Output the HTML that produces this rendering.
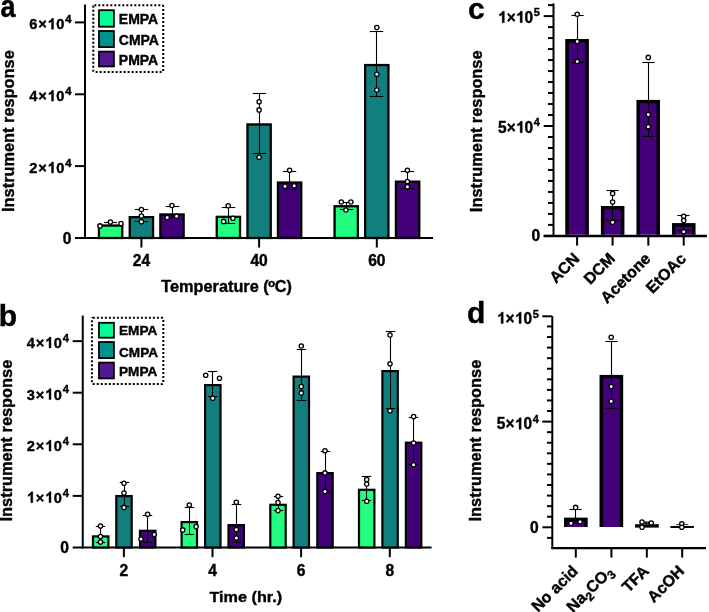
<!DOCTYPE html>
<html><head><meta charset="utf-8"><style>
html,body{margin:0;padding:0;background:#fff;}
svg{display:block;will-change:transform;}
text{font-family:"Liberation Sans",sans-serif;font-weight:bold;fill:#000;stroke:#000;stroke-width:0.4px;}
</style></head><body>
<svg width="709" height="612" viewBox="0 0 709 612">
<rect width="709" height="612" fill="#fff"/>
<text x="0" y="0" font-size="30" transform="translate(0.6,16.5) scale(0.9,1.02)">a</text>
<text x="0" y="0" font-size="16.35" text-anchor="middle" transform="translate(14.0,131.1) rotate(-90)">Instrument response</text>
<line x1="85" y1="4.5" x2="85" y2="239" stroke="#000" stroke-width="2"/>
<line x1="75" y1="238" x2="433" y2="238" stroke="#000" stroke-width="2"/>
<line x1="75" y1="22.4" x2="85" y2="22.4" stroke="#000" stroke-width="2"/>
<line x1="75" y1="94.3" x2="85" y2="94.3" stroke="#000" stroke-width="2"/>
<line x1="75" y1="166.1" x2="85" y2="166.1" stroke="#000" stroke-width="2"/>
<text x="0" y="0" font-size="14.6" text-anchor="end" transform="translate(72.3,29.2) scale(1,1.04)" letter-spacing="0.8">6× 0<tspan font-size="11.2" dy="-5.9" dx="0">4</tspan></text>
<text x="0" y="0" font-size="14.6" text-anchor="end" transform="translate(72.3,101.1) scale(1,1.04)" letter-spacing="0.8">4× 0<tspan font-size="11.2" dy="-5.9" dx="0">4</tspan></text>
<text x="0" y="0" font-size="14.6" text-anchor="end" transform="translate(72.3,172.9) scale(1,1.04)" letter-spacing="0.8">2× 0<tspan font-size="11.2" dy="-5.9" dx="0">4</tspan></text>
<text x="0" y="0" font-size="15.6" text-anchor="end" transform="translate(71.5,243.7) scale(1,1.0)" >0</text>
<line x1="141.4" y1="238" x2="141.4" y2="247.5" stroke="#000" stroke-width="2"/>
<text x="0" y="0" font-size="15.6" text-anchor="middle" transform="translate(141.4,265.8) scale(1,1.0)" >24</text>
<line x1="259.1" y1="238" x2="259.1" y2="247.5" stroke="#000" stroke-width="2"/>
<text x="0" y="0" font-size="15.6" text-anchor="middle" transform="translate(259.1,265.8) scale(1,1.0)" >40</text>
<line x1="376.8" y1="238" x2="376.8" y2="247.5" stroke="#000" stroke-width="2"/>
<text x="0" y="0" font-size="15.6" text-anchor="middle" transform="translate(376.8,265.8) scale(1,1.0)" >60</text>
<text x="0" y="0" font-size="16.3" text-anchor="start" transform="translate(161.3,292.4) scale(1,0.98)" >Temperature (<tspan font-size="11.8" dy="-5.6" dx="-0.7">o</tspan><tspan dy="5.6" dx="-0.4">C)</tspan></text>
<rect x="98.95" y="225.55" width="23.30" height="12.45" fill="#22FE80" stroke="#000" stroke-width="2.3"/>
<rect x="129.75" y="217.15" width="23.30" height="20.85" fill="#117F7E" stroke="#000" stroke-width="2.3"/>
<rect x="160.35" y="214.45" width="23.30" height="23.55" fill="#420079" stroke="#000" stroke-width="2.3"/>
<rect x="216.75" y="216.85" width="23.30" height="21.15" fill="#22FE80" stroke="#000" stroke-width="2.3"/>
<rect x="247.45" y="124.45" width="23.30" height="113.55" fill="#117F7E" stroke="#000" stroke-width="2.3"/>
<rect x="277.95" y="182.55" width="23.30" height="55.45" fill="#420079" stroke="#000" stroke-width="2.3"/>
<rect x="334.55" y="206.25" width="23.30" height="31.75" fill="#22FE80" stroke="#000" stroke-width="2.3"/>
<rect x="365.15" y="65.05" width="23.30" height="172.95" fill="#117F7E" stroke="#000" stroke-width="2.3"/>
<rect x="395.95" y="181.65" width="23.30" height="56.35" fill="#420079" stroke="#000" stroke-width="2.3"/>
<line x1="110.5" y1="222.5" x2="110.5" y2="222.5" stroke="#000" stroke-width="1.1"/>
<line x1="104.2" y1="222.5" x2="116.8" y2="222.5" stroke="#000" stroke-width="1.1"/>
<line x1="104.2" y1="222.5" x2="116.8" y2="222.5" stroke="#000" stroke-width="1.1"/>
<circle cx="110.4" cy="222.1" r="2.15" fill="#fff" stroke="#000" stroke-width="1.3"/>
<circle cx="100.0" cy="225.9" r="2.15" fill="#fff" stroke="#000" stroke-width="1.3"/>
<circle cx="121.0" cy="223.6" r="2.15" fill="#fff" stroke="#000" stroke-width="1.3"/>
<line x1="141.5" y1="209.5" x2="141.5" y2="221.5" stroke="#000" stroke-width="1.1"/>
<line x1="134.75" y1="209.5" x2="148.25" y2="209.5" stroke="#000" stroke-width="1.1"/>
<line x1="134.75" y1="221.5" x2="148.25" y2="221.5" stroke="#000" stroke-width="1.1"/>
<circle cx="141.4" cy="209.5" r="2.15" fill="#fff" stroke="#000" stroke-width="1.3"/>
<circle cx="141.4" cy="216.0" r="2.15" fill="#fff" stroke="#000" stroke-width="1.3"/>
<circle cx="141.4" cy="221.8" r="2.15" fill="#fff" stroke="#000" stroke-width="1.3"/>
<line x1="172.5" y1="206.5" x2="172.5" y2="217.5" stroke="#000" stroke-width="1.1"/>
<line x1="165.6" y1="206.5" x2="179.4" y2="206.5" stroke="#000" stroke-width="1.1"/>
<line x1="165.6" y1="217.5" x2="179.4" y2="217.5" stroke="#000" stroke-width="1.1"/>
<circle cx="171.9" cy="205.5" r="2.15" fill="#fff" stroke="#000" stroke-width="1.3"/>
<circle cx="167.2" cy="217.6" r="2.15" fill="#fff" stroke="#000" stroke-width="1.3"/>
<circle cx="176.6" cy="216.3" r="2.15" fill="#fff" stroke="#000" stroke-width="1.3"/>
<line x1="228.5" y1="207.5" x2="228.5" y2="223.5" stroke="#000" stroke-width="1.1"/>
<line x1="221.75" y1="207.5" x2="235.25" y2="207.5" stroke="#000" stroke-width="1.1"/>
<line x1="221.75" y1="223.5" x2="235.25" y2="223.5" stroke="#000" stroke-width="1.1"/>
<circle cx="228.2" cy="205.8" r="2.15" fill="#fff" stroke="#000" stroke-width="1.3"/>
<circle cx="223.6" cy="221.4" r="2.15" fill="#fff" stroke="#000" stroke-width="1.3"/>
<circle cx="232.9" cy="218.3" r="2.15" fill="#fff" stroke="#000" stroke-width="1.3"/>
<line x1="259.5" y1="93.5" x2="259.5" y2="153.5" stroke="#000" stroke-width="1.1"/>
<line x1="252.75" y1="93.5" x2="266.25" y2="93.5" stroke="#000" stroke-width="1.1"/>
<line x1="252.75" y1="153.5" x2="266.25" y2="153.5" stroke="#000" stroke-width="1.1"/>
<circle cx="259.1" cy="101.7" r="2.15" fill="#fff" stroke="#000" stroke-width="1.3"/>
<circle cx="259.1" cy="109.9" r="2.15" fill="#fff" stroke="#000" stroke-width="1.3"/>
<circle cx="259.1" cy="157.3" r="2.15" fill="#fff" stroke="#000" stroke-width="1.3"/>
<line x1="289.5" y1="171.5" x2="289.5" y2="189.5" stroke="#000" stroke-width="1.1"/>
<line x1="282.75" y1="171.5" x2="296.25" y2="171.5" stroke="#000" stroke-width="1.1"/>
<line x1="282.75" y1="189.5" x2="296.25" y2="189.5" stroke="#000" stroke-width="1.1"/>
<circle cx="289.6" cy="170.2" r="2.15" fill="#fff" stroke="#000" stroke-width="1.3"/>
<circle cx="285.0" cy="186.2" r="2.15" fill="#fff" stroke="#000" stroke-width="1.3"/>
<circle cx="294.2" cy="185.8" r="2.15" fill="#fff" stroke="#000" stroke-width="1.3"/>
<line x1="346.5" y1="202.5" x2="346.5" y2="209.5" stroke="#000" stroke-width="1.1"/>
<line x1="339.75" y1="202.5" x2="353.25" y2="202.5" stroke="#000" stroke-width="1.1"/>
<line x1="339.75" y1="209.5" x2="353.25" y2="209.5" stroke="#000" stroke-width="1.1"/>
<circle cx="341.3" cy="202.0" r="2.15" fill="#fff" stroke="#000" stroke-width="1.3"/>
<circle cx="350.9" cy="202.0" r="2.15" fill="#fff" stroke="#000" stroke-width="1.3"/>
<circle cx="345.9" cy="210.0" r="2.15" fill="#fff" stroke="#000" stroke-width="1.3"/>
<line x1="376.5" y1="31.5" x2="376.5" y2="96.5" stroke="#000" stroke-width="1.1"/>
<line x1="369.75" y1="31.5" x2="383.25" y2="31.5" stroke="#000" stroke-width="1.1"/>
<line x1="369.75" y1="96.5" x2="383.25" y2="96.5" stroke="#000" stroke-width="1.1"/>
<circle cx="376.8" cy="27.5" r="2.15" fill="#fff" stroke="#000" stroke-width="1.3"/>
<circle cx="376.8" cy="74.2" r="2.15" fill="#fff" stroke="#000" stroke-width="1.3"/>
<circle cx="376.8" cy="90.0" r="2.15" fill="#fff" stroke="#000" stroke-width="1.3"/>
<line x1="407.5" y1="171.5" x2="407.5" y2="188.5" stroke="#000" stroke-width="1.1"/>
<line x1="400.75" y1="171.5" x2="414.25" y2="171.5" stroke="#000" stroke-width="1.1"/>
<line x1="400.75" y1="188.5" x2="414.25" y2="188.5" stroke="#000" stroke-width="1.1"/>
<circle cx="407.4" cy="170.2" r="2.15" fill="#fff" stroke="#000" stroke-width="1.3"/>
<circle cx="407.4" cy="181.6" r="2.15" fill="#fff" stroke="#000" stroke-width="1.3"/>
<circle cx="407.4" cy="186.8" r="2.15" fill="#fff" stroke="#000" stroke-width="1.3"/>
<rect x="93.3" y="5.2" width="69.89999999999999" height="66.7" rx="1" fill="none" stroke="#000" stroke-width="2" stroke-dasharray="2 2"/>
<rect x="99.0" y="10.200000000000001" width="14.9" height="16.50" fill="#00FE94" stroke="#000" stroke-width="1.8"/>
<text x="0" y="0" font-size="14" text-anchor="start" transform="translate(118.8,24.0) scale(1,1.0)" >EMPA</text>
<rect x="99.0" y="31.0" width="14.9" height="16.10" fill="#00908D" stroke="#000" stroke-width="1.8"/>
<text x="0" y="0" font-size="14" text-anchor="start" transform="translate(118.8,44.6) scale(1,1.0)" >CMPA</text>
<rect x="99.0" y="51.6" width="14.9" height="14.80" fill="#52198F" stroke="#000" stroke-width="1.8"/>
<text x="0" y="0" font-size="14" text-anchor="start" transform="translate(118.8,65.0) scale(1,1.0)" >PMPA</text>
<text x="0" y="0" font-size="30" text-anchor="start" transform="translate(-1.3,326) scale(1,1.0)" >b</text>
<text x="0" y="0" font-size="16.35" text-anchor="middle" transform="translate(11.8,440.6) rotate(-90)">Instrument response</text>
<line x1="82.75" y1="315.5" x2="82.75" y2="548.5" stroke="#000" stroke-width="2"/>
<line x1="72.7" y1="547.5" x2="431.6" y2="547.5" stroke="#000" stroke-width="2"/>
<line x1="72.7" y1="341.15" x2="82.75" y2="341.15" stroke="#000" stroke-width="2"/>
<line x1="72.7" y1="392.7" x2="82.75" y2="392.7" stroke="#000" stroke-width="2"/>
<line x1="72.7" y1="444.3" x2="82.75" y2="444.3" stroke="#000" stroke-width="2"/>
<line x1="72.7" y1="495.9" x2="82.75" y2="495.9" stroke="#000" stroke-width="2"/>
<text x="0" y="0" font-size="14.6" text-anchor="end" transform="translate(69.8,347.95) scale(1,1.04)" letter-spacing="0.8">4× 0<tspan font-size="11.2" dy="-5.9" dx="0">4</tspan></text>
<text x="0" y="0" font-size="14.6" text-anchor="end" transform="translate(69.8,399.5) scale(1,1.04)" letter-spacing="0.8">3× 0<tspan font-size="11.2" dy="-5.9" dx="0">4</tspan></text>
<text x="0" y="0" font-size="14.6" text-anchor="end" transform="translate(69.8,451.1) scale(1,1.04)" letter-spacing="0.8">2× 0<tspan font-size="11.2" dy="-5.9" dx="0">4</tspan></text>
<text x="0" y="0" font-size="14.6" text-anchor="end" transform="translate(69.8,502.7) scale(1,1.04)" letter-spacing="0.8"> × 0<tspan font-size="11.2" dy="-5.9" dx="0">4</tspan></text>
<text x="0" y="0" font-size="15.6" text-anchor="end" transform="translate(69.0,553.3) scale(1,1.0)" >0</text>
<line x1="123.9" y1="547.5" x2="123.9" y2="557.2" stroke="#000" stroke-width="2"/>
<text x="0" y="0" font-size="15.6" text-anchor="middle" transform="translate(123.9,575.9) scale(1,1.0)" >2</text>
<line x1="212.5" y1="547.5" x2="212.5" y2="557.2" stroke="#000" stroke-width="2"/>
<text x="0" y="0" font-size="15.6" text-anchor="middle" transform="translate(212.5,575.9) scale(1,1.0)" >4</text>
<line x1="301.1" y1="547.5" x2="301.1" y2="557.2" stroke="#000" stroke-width="2"/>
<text x="0" y="0" font-size="15.6" text-anchor="middle" transform="translate(301.1,575.9) scale(1,1.0)" >6</text>
<line x1="389.8" y1="547.5" x2="389.8" y2="557.2" stroke="#000" stroke-width="2"/>
<text x="0" y="0" font-size="15.6" text-anchor="middle" transform="translate(389.8,575.9) scale(1,1.0)" >8</text>
<text x="0" y="0" font-size="16.2" text-anchor="start" transform="translate(209.5,602.3) scale(1,0.94)" >Time (hr.)</text>
<rect x="93.00" y="536.40" width="15.40" height="11.10" fill="#22FE80" stroke="#000" stroke-width="2.2"/>
<rect x="116.30" y="496.10" width="15.40" height="51.40" fill="#117F7E" stroke="#000" stroke-width="2.2"/>
<rect x="140.00" y="530.80" width="15.40" height="16.70" fill="#420079" stroke="#000" stroke-width="2.2"/>
<rect x="181.60" y="522.10" width="15.40" height="25.40" fill="#22FE80" stroke="#000" stroke-width="2.2"/>
<rect x="205.10" y="385.10" width="15.40" height="162.40" fill="#117F7E" stroke="#000" stroke-width="2.2"/>
<rect x="228.50" y="525.10" width="15.40" height="22.40" fill="#420079" stroke="#000" stroke-width="2.2"/>
<rect x="270.30" y="504.80" width="15.40" height="42.70" fill="#22FE80" stroke="#000" stroke-width="2.2"/>
<rect x="293.60" y="376.60" width="15.40" height="170.90" fill="#117F7E" stroke="#000" stroke-width="2.2"/>
<rect x="317.30" y="473.10" width="15.40" height="74.40" fill="#420079" stroke="#000" stroke-width="2.2"/>
<rect x="359.00" y="489.80" width="15.40" height="57.70" fill="#22FE80" stroke="#000" stroke-width="2.2"/>
<rect x="382.40" y="371.10" width="15.40" height="176.40" fill="#117F7E" stroke="#000" stroke-width="2.2"/>
<rect x="405.90" y="442.70" width="15.40" height="104.80" fill="#420079" stroke="#000" stroke-width="2.2"/>
<line x1="100.5" y1="526.5" x2="100.5" y2="542.5" stroke="#000" stroke-width="1.1"/>
<line x1="95.75" y1="526.5" x2="105.25" y2="526.5" stroke="#000" stroke-width="1.1"/>
<line x1="95.75" y1="542.5" x2="105.25" y2="542.5" stroke="#000" stroke-width="1.1"/>
<circle cx="100.5" cy="526.1" r="2.15" fill="#fff" stroke="#000" stroke-width="1.3"/>
<circle cx="100.5" cy="536.6" r="2.15" fill="#fff" stroke="#000" stroke-width="1.3"/>
<circle cx="100.5" cy="542.1" r="2.15" fill="#fff" stroke="#000" stroke-width="1.3"/>
<line x1="124.5" y1="482.5" x2="124.5" y2="506.5" stroke="#000" stroke-width="1.1"/>
<line x1="119.75" y1="482.5" x2="129.25" y2="482.5" stroke="#000" stroke-width="1.1"/>
<line x1="119.75" y1="506.5" x2="129.25" y2="506.5" stroke="#000" stroke-width="1.1"/>
<circle cx="124.0" cy="483.3" r="2.15" fill="#fff" stroke="#000" stroke-width="1.3"/>
<circle cx="124.0" cy="493.1" r="2.15" fill="#fff" stroke="#000" stroke-width="1.3"/>
<circle cx="124.0" cy="507.5" r="2.15" fill="#fff" stroke="#000" stroke-width="1.3"/>
<line x1="147.5" y1="515.5" x2="147.5" y2="542.5" stroke="#000" stroke-width="1.1"/>
<line x1="142.75" y1="515.5" x2="152.25" y2="515.5" stroke="#000" stroke-width="1.1"/>
<line x1="142.75" y1="542.5" x2="152.25" y2="542.5" stroke="#000" stroke-width="1.1"/>
<circle cx="147.6" cy="514.2" r="2.15" fill="#fff" stroke="#000" stroke-width="1.3"/>
<circle cx="141.0" cy="539.1" r="2.15" fill="#fff" stroke="#000" stroke-width="1.3"/>
<circle cx="154.3" cy="534.5" r="2.15" fill="#fff" stroke="#000" stroke-width="1.3"/>
<line x1="189.5" y1="507.5" x2="189.5" y2="534.5" stroke="#000" stroke-width="1.1"/>
<line x1="184.75" y1="507.5" x2="194.25" y2="507.5" stroke="#000" stroke-width="1.1"/>
<line x1="184.75" y1="534.5" x2="194.25" y2="534.5" stroke="#000" stroke-width="1.1"/>
<circle cx="189.3" cy="505.0" r="2.15" fill="#fff" stroke="#000" stroke-width="1.3"/>
<circle cx="182.7" cy="529.9" r="2.15" fill="#fff" stroke="#000" stroke-width="1.3"/>
<circle cx="196.1" cy="526.6" r="2.15" fill="#fff" stroke="#000" stroke-width="1.3"/>
<line x1="212.5" y1="371.5" x2="212.5" y2="396.5" stroke="#000" stroke-width="1.1"/>
<line x1="207.75" y1="371.5" x2="217.25" y2="371.5" stroke="#000" stroke-width="1.1"/>
<line x1="207.75" y1="396.5" x2="217.25" y2="396.5" stroke="#000" stroke-width="1.1"/>
<circle cx="205.7" cy="375.2" r="2.15" fill="#fff" stroke="#000" stroke-width="1.3"/>
<circle cx="219.5" cy="378.3" r="2.15" fill="#fff" stroke="#000" stroke-width="1.3"/>
<circle cx="212.7" cy="398.3" r="2.15" fill="#fff" stroke="#000" stroke-width="1.3"/>
<line x1="236.5" y1="504.5" x2="236.5" y2="542.5" stroke="#000" stroke-width="1.1"/>
<line x1="231.75" y1="504.5" x2="241.25" y2="504.5" stroke="#000" stroke-width="1.1"/>
<line x1="231.75" y1="542.5" x2="241.25" y2="542.5" stroke="#000" stroke-width="1.1"/>
<circle cx="236.3" cy="502.2" r="2.15" fill="#fff" stroke="#000" stroke-width="1.3"/>
<circle cx="236.3" cy="529.6" r="2.15" fill="#fff" stroke="#000" stroke-width="1.3"/>
<circle cx="236.3" cy="538.1" r="2.15" fill="#fff" stroke="#000" stroke-width="1.3"/>
<line x1="278.5" y1="496.5" x2="278.5" y2="510.5" stroke="#000" stroke-width="1.1"/>
<line x1="273.75" y1="496.5" x2="283.25" y2="496.5" stroke="#000" stroke-width="1.1"/>
<line x1="273.75" y1="510.5" x2="283.25" y2="510.5" stroke="#000" stroke-width="1.1"/>
<circle cx="278.0" cy="496.2" r="2.15" fill="#fff" stroke="#000" stroke-width="1.3"/>
<circle cx="278.0" cy="502.5" r="2.15" fill="#fff" stroke="#000" stroke-width="1.3"/>
<circle cx="278.0" cy="510.6" r="2.15" fill="#fff" stroke="#000" stroke-width="1.3"/>
<line x1="301.5" y1="349.5" x2="301.5" y2="400.5" stroke="#000" stroke-width="1.1"/>
<line x1="296.75" y1="349.5" x2="306.25" y2="349.5" stroke="#000" stroke-width="1.1"/>
<line x1="296.75" y1="400.5" x2="306.25" y2="400.5" stroke="#000" stroke-width="1.1"/>
<circle cx="301.3" cy="346.0" r="2.15" fill="#fff" stroke="#000" stroke-width="1.3"/>
<circle cx="301.3" cy="386.6" r="2.15" fill="#fff" stroke="#000" stroke-width="1.3"/>
<circle cx="301.3" cy="392.9" r="2.15" fill="#fff" stroke="#000" stroke-width="1.3"/>
<line x1="325.5" y1="451.5" x2="325.5" y2="491.5" stroke="#000" stroke-width="1.1"/>
<line x1="320.75" y1="451.5" x2="330.25" y2="451.5" stroke="#000" stroke-width="1.1"/>
<line x1="320.75" y1="491.5" x2="330.25" y2="491.5" stroke="#000" stroke-width="1.1"/>
<circle cx="325.0" cy="450.7" r="2.15" fill="#fff" stroke="#000" stroke-width="1.3"/>
<circle cx="325.0" cy="472.9" r="2.15" fill="#fff" stroke="#000" stroke-width="1.3"/>
<circle cx="325.0" cy="491.6" r="2.15" fill="#fff" stroke="#000" stroke-width="1.3"/>
<line x1="366.5" y1="476.5" x2="366.5" y2="500.5" stroke="#000" stroke-width="1.1"/>
<line x1="361.75" y1="476.5" x2="371.25" y2="476.5" stroke="#000" stroke-width="1.1"/>
<line x1="361.75" y1="500.5" x2="371.25" y2="500.5" stroke="#000" stroke-width="1.1"/>
<circle cx="366.7" cy="479.6" r="2.15" fill="#fff" stroke="#000" stroke-width="1.3"/>
<circle cx="366.7" cy="484.0" r="2.15" fill="#fff" stroke="#000" stroke-width="1.3"/>
<circle cx="366.7" cy="501.3" r="2.15" fill="#fff" stroke="#000" stroke-width="1.3"/>
<line x1="390.5" y1="331.5" x2="390.5" y2="408.5" stroke="#000" stroke-width="1.1"/>
<line x1="385.75" y1="331.5" x2="395.25" y2="331.5" stroke="#000" stroke-width="1.1"/>
<line x1="385.75" y1="408.5" x2="395.25" y2="408.5" stroke="#000" stroke-width="1.1"/>
<circle cx="390.0" cy="335.0" r="2.15" fill="#fff" stroke="#000" stroke-width="1.3"/>
<circle cx="390.0" cy="363.8" r="2.15" fill="#fff" stroke="#000" stroke-width="1.3"/>
<circle cx="390.0" cy="410.8" r="2.15" fill="#fff" stroke="#000" stroke-width="1.3"/>
<line x1="413.5" y1="417.5" x2="413.5" y2="464.5" stroke="#000" stroke-width="1.1"/>
<line x1="408.75" y1="417.5" x2="418.25" y2="417.5" stroke="#000" stroke-width="1.1"/>
<line x1="408.75" y1="464.5" x2="418.25" y2="464.5" stroke="#000" stroke-width="1.1"/>
<circle cx="413.6" cy="416.6" r="2.15" fill="#fff" stroke="#000" stroke-width="1.3"/>
<circle cx="413.6" cy="443.1" r="2.15" fill="#fff" stroke="#000" stroke-width="1.3"/>
<circle cx="413.6" cy="464.7" r="2.15" fill="#fff" stroke="#000" stroke-width="1.3"/>
<rect x="91.9" y="317.8" width="71.4" height="66.19999999999999" rx="1" fill="none" stroke="#000" stroke-width="2" stroke-dasharray="2 2"/>
<rect x="99.0" y="322.79999999999995" width="14.9" height="14.90" fill="#00FE94" stroke="#000" stroke-width="1.8"/>
<text x="0" y="0" font-size="13.6" text-anchor="start" transform="translate(119.0,335.3) scale(1,1.0)" >EMPA</text>
<rect x="99.0" y="342.0" width="14.9" height="16.10" fill="#00908D" stroke="#000" stroke-width="1.8"/>
<text x="0" y="0" font-size="13.6" text-anchor="start" transform="translate(119.0,356.9) scale(1,1.0)" >CMPA</text>
<rect x="99.0" y="362.59999999999997" width="14.9" height="15.80" fill="#52198F" stroke="#000" stroke-width="1.8"/>
<text x="0" y="0" font-size="13.6" text-anchor="start" transform="translate(119.0,376.1) scale(1,1.0)" >PMPA</text>
<text x="0" y="0" font-size="30" text-anchor="start" transform="translate(468.0,19.0) scale(1,1.0)" >c</text>
<text x="0" y="0" font-size="16.35" text-anchor="middle" transform="translate(482.3,131.3) rotate(-90)">Instrument response</text>
<line x1="553.5" y1="3.4" x2="553.5" y2="237" stroke="#000" stroke-width="2"/>
<line x1="543.7" y1="235.9" x2="706.9" y2="235.9" stroke="#000" stroke-width="2.5"/>
<line x1="543.7" y1="235.9" x2="553.7" y2="235.9" stroke="#000" stroke-width="2"/>
<line x1="548.0" y1="224.91" x2="553.7" y2="224.91" stroke="#000" stroke-width="2"/>
<line x1="548.0" y1="213.92000000000002" x2="553.7" y2="213.92000000000002" stroke="#000" stroke-width="2"/>
<line x1="548.0" y1="202.93" x2="553.7" y2="202.93" stroke="#000" stroke-width="2"/>
<line x1="548.0" y1="191.94" x2="553.7" y2="191.94" stroke="#000" stroke-width="2"/>
<line x1="548.0" y1="180.95" x2="553.7" y2="180.95" stroke="#000" stroke-width="2"/>
<line x1="548.0" y1="169.96" x2="553.7" y2="169.96" stroke="#000" stroke-width="2"/>
<line x1="548.0" y1="158.97" x2="553.7" y2="158.97" stroke="#000" stroke-width="2"/>
<line x1="548.0" y1="147.98000000000002" x2="553.7" y2="147.98000000000002" stroke="#000" stroke-width="2"/>
<line x1="548.0" y1="136.99" x2="553.7" y2="136.99" stroke="#000" stroke-width="2"/>
<line x1="543.7" y1="126.0" x2="553.7" y2="126.0" stroke="#000" stroke-width="2"/>
<line x1="548.0" y1="115.01" x2="553.7" y2="115.01" stroke="#000" stroke-width="2"/>
<line x1="548.0" y1="104.02000000000001" x2="553.7" y2="104.02000000000001" stroke="#000" stroke-width="2"/>
<line x1="548.0" y1="93.03" x2="553.7" y2="93.03" stroke="#000" stroke-width="2"/>
<line x1="548.0" y1="82.03999999999999" x2="553.7" y2="82.03999999999999" stroke="#000" stroke-width="2"/>
<line x1="548.0" y1="71.05000000000001" x2="553.7" y2="71.05000000000001" stroke="#000" stroke-width="2"/>
<line x1="548.0" y1="60.06" x2="553.7" y2="60.06" stroke="#000" stroke-width="2"/>
<line x1="548.0" y1="49.06999999999999" x2="553.7" y2="49.06999999999999" stroke="#000" stroke-width="2"/>
<line x1="548.0" y1="38.08000000000001" x2="553.7" y2="38.08000000000001" stroke="#000" stroke-width="2"/>
<line x1="548.0" y1="27.090000000000003" x2="553.7" y2="27.090000000000003" stroke="#000" stroke-width="2"/>
<line x1="543.7" y1="16.099999999999994" x2="553.7" y2="16.099999999999994" stroke="#000" stroke-width="2"/>
<line x1="548.0" y1="5.110000000000014" x2="553.7" y2="5.110000000000014" stroke="#000" stroke-width="2"/>
<text x="0" y="0" font-size="15.4" text-anchor="end" transform="translate(540.2,22.700000000000003) scale(1,1.04)" letter-spacing="0.2"> × 0<tspan font-size="11" dy="-6.7" dx="0.5">5</tspan></text>
<text x="0" y="0" font-size="15.4" text-anchor="end" transform="translate(540.2,132.7) scale(1,1.04)" letter-spacing="0.2">5× 0<tspan font-size="11" dy="-6.7" dx="0.5">4</tspan></text>
<text x="0" y="0" font-size="15.6" text-anchor="end" transform="translate(540.3,241.3) scale(1,1.0)" >0</text>
<line x1="577.1" y1="236" x2="577.1" y2="245.6" stroke="#000" stroke-width="2"/>
<line x1="612.6" y1="236" x2="612.6" y2="245.6" stroke="#000" stroke-width="2"/>
<line x1="648.3" y1="236" x2="648.3" y2="245.6" stroke="#000" stroke-width="2"/>
<line x1="683.7" y1="236" x2="683.7" y2="245.6" stroke="#000" stroke-width="2"/>
<text x="0" y="0" font-size="16" text-anchor="end" transform="translate(580.4,259.6) rotate(-45)">ACN</text>
<text x="0" y="0" font-size="16" text-anchor="end" transform="translate(615.9,259.6) rotate(-45)">DCM</text>
<text x="0" y="0" font-size="16" text-anchor="end" transform="translate(651.5999999999999,259.6) rotate(-45)">Acetone</text>
<text x="0" y="0" font-size="16" text-anchor="end" transform="translate(687.0,259.6) rotate(-45)">EtOAc</text>
<rect x="565.45" y="39.00" width="23.30" height="195.70" fill="#420079"/>
<path d="M567.15,234.70 V40.70 H587.05 V234.70" fill="none" stroke="#000" stroke-width="3.4" stroke-linejoin="miter"/>
<rect x="600.95" y="206.10" width="23.30" height="28.60" fill="#420079"/>
<path d="M602.65,234.70 V207.80 H622.55 V234.70" fill="none" stroke="#000" stroke-width="3.4" stroke-linejoin="miter"/>
<rect x="636.65" y="99.90" width="23.30" height="134.80" fill="#420079"/>
<path d="M638.35,234.70 V101.60 H658.25 V234.70" fill="none" stroke="#000" stroke-width="3.4" stroke-linejoin="miter"/>
<rect x="672.05" y="223.30" width="23.30" height="11.40" fill="#420079"/>
<path d="M673.75,234.70 V225.00 H693.65 V234.70" fill="none" stroke="#000" stroke-width="3.4" stroke-linejoin="miter"/>
<line x1="577.5" y1="15.5" x2="577.5" y2="62.5" stroke="#000" stroke-width="1.1"/>
<line x1="571.4" y1="15.5" x2="583.6" y2="15.5" stroke="#000" stroke-width="1.1"/>
<line x1="571.4" y1="62.5" x2="583.6" y2="62.5" stroke="#000" stroke-width="1.1"/>
<circle cx="577.2" cy="14.2" r="2.15" fill="#fff" stroke="#000" stroke-width="1.3"/>
<circle cx="577.2" cy="41.5" r="2.15" fill="#fff" stroke="#000" stroke-width="1.3"/>
<circle cx="577.2" cy="61.4" r="2.15" fill="#fff" stroke="#000" stroke-width="1.3"/>
<line x1="612.5" y1="190.5" x2="612.5" y2="220.5" stroke="#000" stroke-width="1.1"/>
<line x1="606.4" y1="190.5" x2="618.6" y2="190.5" stroke="#000" stroke-width="1.1"/>
<line x1="606.4" y1="220.5" x2="618.6" y2="220.5" stroke="#000" stroke-width="1.1"/>
<circle cx="612.6" cy="193.4" r="2.15" fill="#fff" stroke="#000" stroke-width="1.3"/>
<circle cx="612.6" cy="202.1" r="2.15" fill="#fff" stroke="#000" stroke-width="1.3"/>
<circle cx="612.6" cy="222.3" r="2.15" fill="#fff" stroke="#000" stroke-width="1.3"/>
<line x1="648.5" y1="62.5" x2="648.5" y2="136.5" stroke="#000" stroke-width="1.1"/>
<line x1="642.4" y1="62.5" x2="654.6" y2="62.5" stroke="#000" stroke-width="1.1"/>
<line x1="642.4" y1="136.5" x2="654.6" y2="136.5" stroke="#000" stroke-width="1.1"/>
<circle cx="648.3" cy="57.4" r="2.15" fill="#fff" stroke="#000" stroke-width="1.3"/>
<circle cx="648.3" cy="114.6" r="2.15" fill="#fff" stroke="#000" stroke-width="1.3"/>
<circle cx="648.3" cy="126.8" r="2.15" fill="#fff" stroke="#000" stroke-width="1.3"/>
<line x1="683.5" y1="215.5" x2="683.5" y2="230.5" stroke="#000" stroke-width="1.1"/>
<line x1="677.4" y1="215.5" x2="689.6" y2="215.5" stroke="#000" stroke-width="1.1"/>
<line x1="677.4" y1="230.5" x2="689.6" y2="230.5" stroke="#000" stroke-width="1.1"/>
<circle cx="683.7" cy="216.3" r="2.15" fill="#fff" stroke="#000" stroke-width="1.3"/>
<circle cx="683.7" cy="220.6" r="2.15" fill="#fff" stroke="#000" stroke-width="1.3"/>
<circle cx="683.7" cy="231.7" r="2.15" fill="#fff" stroke="#000" stroke-width="1.3"/>
<text x="0" y="0" font-size="30" text-anchor="start" transform="translate(467.0,322.9) scale(1,1.0)" >d</text>
<text x="0" y="0" font-size="16.35" text-anchor="middle" transform="translate(480.5,440.6) rotate(-90)">Instrument response</text>
<line x1="552.3" y1="316.3" x2="552.3" y2="549" stroke="#000" stroke-width="2"/>
<line x1="551.3" y1="548.1" x2="706.0" y2="548.1" stroke="#000" stroke-width="2.4"/>
<line x1="547.0" y1="537.87" x2="552.3" y2="537.87" stroke="#000" stroke-width="2"/>
<line x1="542.3" y1="527.3" x2="552.3" y2="527.3" stroke="#000" stroke-width="2"/>
<line x1="547.0" y1="516.7299999999999" x2="552.3" y2="516.7299999999999" stroke="#000" stroke-width="2"/>
<line x1="547.0" y1="506.15999999999997" x2="552.3" y2="506.15999999999997" stroke="#000" stroke-width="2"/>
<line x1="547.0" y1="495.59" x2="552.3" y2="495.59" stroke="#000" stroke-width="2"/>
<line x1="547.0" y1="485.02" x2="552.3" y2="485.02" stroke="#000" stroke-width="2"/>
<line x1="547.0" y1="474.44999999999993" x2="552.3" y2="474.44999999999993" stroke="#000" stroke-width="2"/>
<line x1="547.0" y1="463.87999999999994" x2="552.3" y2="463.87999999999994" stroke="#000" stroke-width="2"/>
<line x1="547.0" y1="453.30999999999995" x2="552.3" y2="453.30999999999995" stroke="#000" stroke-width="2"/>
<line x1="547.0" y1="442.73999999999995" x2="552.3" y2="442.73999999999995" stroke="#000" stroke-width="2"/>
<line x1="547.0" y1="432.16999999999996" x2="552.3" y2="432.16999999999996" stroke="#000" stroke-width="2"/>
<line x1="542.3" y1="421.59999999999997" x2="552.3" y2="421.59999999999997" stroke="#000" stroke-width="2"/>
<line x1="547.0" y1="411.03" x2="552.3" y2="411.03" stroke="#000" stroke-width="2"/>
<line x1="547.0" y1="400.4599999999999" x2="552.3" y2="400.4599999999999" stroke="#000" stroke-width="2"/>
<line x1="547.0" y1="389.89" x2="552.3" y2="389.89" stroke="#000" stroke-width="2"/>
<line x1="547.0" y1="379.31999999999994" x2="552.3" y2="379.31999999999994" stroke="#000" stroke-width="2"/>
<line x1="547.0" y1="368.74999999999994" x2="552.3" y2="368.74999999999994" stroke="#000" stroke-width="2"/>
<line x1="547.0" y1="358.17999999999995" x2="552.3" y2="358.17999999999995" stroke="#000" stroke-width="2"/>
<line x1="547.0" y1="347.60999999999996" x2="552.3" y2="347.60999999999996" stroke="#000" stroke-width="2"/>
<line x1="547.0" y1="337.03999999999996" x2="552.3" y2="337.03999999999996" stroke="#000" stroke-width="2"/>
<line x1="547.0" y1="326.4699999999999" x2="552.3" y2="326.4699999999999" stroke="#000" stroke-width="2"/>
<line x1="542.3" y1="316.3" x2="552.3" y2="316.3" stroke="#000" stroke-width="2"/>
<text x="0" y="0" font-size="15.4" text-anchor="end" transform="translate(539.1,323.6) scale(1,1.04)" letter-spacing="0.2"> × 0<tspan font-size="11" dy="-5.6" dx="0.5">5</tspan></text>
<text x="0" y="0" font-size="15.4" text-anchor="end" transform="translate(539.1,429.3) scale(1,1.04)" letter-spacing="0.2">5× 0<tspan font-size="11" dy="-5.6" dx="0.5">4</tspan></text>
<text x="0" y="0" font-size="15.6" text-anchor="end" transform="translate(538.8,532.9) scale(1,1.0)" >0</text>
<line x1="575.8" y1="548" x2="575.8" y2="557.6" stroke="#000" stroke-width="2"/>
<line x1="611.4" y1="548" x2="611.4" y2="557.6" stroke="#000" stroke-width="2"/>
<line x1="646.8" y1="548" x2="646.8" y2="557.6" stroke="#000" stroke-width="2"/>
<line x1="682.2" y1="548" x2="682.2" y2="557.6" stroke="#000" stroke-width="2"/>
<text x="0" y="0" font-size="16" text-anchor="end" transform="translate(578.8,572.0) rotate(-45)">No acid</text>
<text x="0" y="0" font-size="16" text-anchor="end" transform="translate(614.0,572.4) rotate(-45)">Na<tspan font-size="12" dy="4">2</tspan><tspan dy="-4">CO</tspan><tspan font-size="12" dy="4">3</tspan></text>
<text x="0" y="0" font-size="16" text-anchor="end" transform="translate(649.8,572.0) rotate(-45)">TFA</text>
<text x="0" y="0" font-size="16" text-anchor="end" transform="translate(685.2,572.0) rotate(-45)">AcOH</text>
<rect x="564.10" y="517.80" width="23.40" height="9.20" fill="#420079"/>
<path d="M565.80,527.00 V519.50 H585.80 V527.00" fill="none" stroke="#000" stroke-width="3.4" stroke-linejoin="miter"/>
<rect x="599.70" y="374.90" width="23.40" height="152.10" fill="#420079"/>
<path d="M601.40,527.00 V376.60 H621.40 V527.00" fill="none" stroke="#000" stroke-width="3.4" stroke-linejoin="miter"/>
<line x1="575.5" y1="509.5" x2="575.5" y2="523.5" stroke="#000" stroke-width="1.1"/>
<line x1="569.4" y1="509.5" x2="581.6" y2="509.5" stroke="#000" stroke-width="1.1"/>
<line x1="569.4" y1="523.5" x2="581.6" y2="523.5" stroke="#000" stroke-width="1.1"/>
<circle cx="575.6" cy="507.4" r="2.15" fill="#fff" stroke="#000" stroke-width="1.3"/>
<circle cx="571.0" cy="523.3" r="2.15" fill="#fff" stroke="#000" stroke-width="1.3"/>
<circle cx="580.1" cy="521.8" r="2.15" fill="#fff" stroke="#000" stroke-width="1.3"/>
<line x1="611.5" y1="341.5" x2="611.5" y2="408.5" stroke="#000" stroke-width="1.1"/>
<line x1="605.4" y1="341.5" x2="617.6" y2="341.5" stroke="#000" stroke-width="1.1"/>
<line x1="605.4" y1="408.5" x2="617.6" y2="408.5" stroke="#000" stroke-width="1.1"/>
<circle cx="611.2" cy="337.2" r="2.15" fill="#fff" stroke="#000" stroke-width="1.3"/>
<circle cx="611.2" cy="386.6" r="2.15" fill="#fff" stroke="#000" stroke-width="1.3"/>
<circle cx="611.2" cy="401.2" r="2.15" fill="#fff" stroke="#000" stroke-width="1.3"/>
<rect x="635.0" y="524.2" width="23.8" height="3.4" fill="#000"/>
<rect x="644.6" y="521.5" width="5.6" height="2.4" fill="#000"/>
<rect x="646.9" y="522.2" width="1.0" height="1.0" fill="#888"/>
<circle cx="642.0" cy="522.0" r="2.15" fill="#fff" stroke="#000" stroke-width="1.3"/>
<circle cx="651.3" cy="523.0" r="2.15" fill="#fff" stroke="#000" stroke-width="1.3"/>
<circle cx="642.0" cy="527.3" r="2.15" fill="#fff" stroke="#000" stroke-width="1.3"/>
<line x1="676.1" y1="524.6" x2="688.2" y2="524.6" stroke="#333" stroke-width="1"/>
<rect x="670.4" y="526.0" width="23.5" height="2.0" fill="#000"/>
<circle cx="681.8" cy="523.8" r="2.15" fill="#fff" stroke="#000" stroke-width="1.3"/>
<circle cx="681.8" cy="527.3" r="2.15" fill="#fff" stroke="#000" stroke-width="1.3"/>
<g transform="translate(72.3,29.2) scale(1,1.04)"><path d="M854,0 L573,0 L573,1059 Q419,915 210,846 L210,1101 Q320,1137 449,1237 Q578,1337 626,1466 L854,1466 Z" transform="translate(-24.873,0.000) scale(0.007129,-0.007129)" fill="#000" stroke="#000" stroke-width="56.11"/></g>
<g transform="translate(72.3,101.1) scale(1,1.04)"><path d="M854,0 L573,0 L573,1059 Q419,915 210,846 L210,1101 Q320,1137 449,1237 Q578,1337 626,1466 L854,1466 Z" transform="translate(-24.873,0.000) scale(0.007129,-0.007129)" fill="#000" stroke="#000" stroke-width="56.11"/></g>
<g transform="translate(72.3,172.9) scale(1,1.04)"><path d="M854,0 L573,0 L573,1059 Q419,915 210,846 L210,1101 Q320,1137 449,1237 Q578,1337 626,1466 L854,1466 Z" transform="translate(-24.873,0.000) scale(0.007129,-0.007129)" fill="#000" stroke="#000" stroke-width="56.11"/></g>
<g transform="translate(69.8,347.95) scale(1,1.04)"><path d="M854,0 L573,0 L573,1059 Q419,915 210,846 L210,1101 Q320,1137 449,1237 Q578,1337 626,1466 L854,1466 Z" transform="translate(-24.873,0.000) scale(0.007129,-0.007129)" fill="#000" stroke="#000" stroke-width="56.11"/></g>
<g transform="translate(69.8,399.5) scale(1,1.04)"><path d="M854,0 L573,0 L573,1059 Q419,915 210,846 L210,1101 Q320,1137 449,1237 Q578,1337 626,1466 L854,1466 Z" transform="translate(-24.873,0.000) scale(0.007129,-0.007129)" fill="#000" stroke="#000" stroke-width="56.11"/></g>
<g transform="translate(69.8,451.1) scale(1,1.04)"><path d="M854,0 L573,0 L573,1059 Q419,915 210,846 L210,1101 Q320,1137 449,1237 Q578,1337 626,1466 L854,1466 Z" transform="translate(-24.873,0.000) scale(0.007129,-0.007129)" fill="#000" stroke="#000" stroke-width="56.11"/></g>
<g transform="translate(69.8,502.7) scale(1,1.04)"><path d="M854,0 L573,0 L573,1059 Q419,915 210,846 L210,1101 Q320,1137 449,1237 Q578,1337 626,1466 L854,1466 Z" transform="translate(-43.083,0.000) scale(0.007129,-0.007129)" fill="#000" stroke="#000" stroke-width="56.11"/></g>
<g transform="translate(69.8,502.7) scale(1,1.04)"><path d="M854,0 L573,0 L573,1059 Q419,915 210,846 L210,1101 Q320,1137 449,1237 Q578,1337 626,1466 L854,1466 Z" transform="translate(-24.873,0.000) scale(0.007129,-0.007129)" fill="#000" stroke="#000" stroke-width="56.11"/></g>
<g transform="translate(540.2,22.700000000000003) scale(1,1.04)"><path d="M854,0 L573,0 L573,1059 Q419,915 210,846 L210,1101 Q320,1137 449,1237 Q578,1337 626,1466 L854,1466 Z" transform="translate(-42.297,0.000) scale(0.007520,-0.007520)" fill="#000" stroke="#000" stroke-width="53.19"/></g>
<g transform="translate(540.2,22.700000000000003) scale(1,1.04)"><path d="M854,0 L573,0 L573,1059 Q419,915 210,846 L210,1101 Q320,1137 449,1237 Q578,1337 626,1466 L854,1466 Z" transform="translate(-24.362,0.000) scale(0.007520,-0.007520)" fill="#000" stroke="#000" stroke-width="53.19"/></g>
<g transform="translate(540.2,132.7) scale(1,1.04)"><path d="M854,0 L573,0 L573,1059 Q419,915 210,846 L210,1101 Q320,1137 449,1237 Q578,1337 626,1466 L854,1466 Z" transform="translate(-24.362,0.000) scale(0.007520,-0.007520)" fill="#000" stroke="#000" stroke-width="53.19"/></g>
<g transform="translate(539.1,323.6) scale(1,1.04)"><path d="M854,0 L573,0 L573,1059 Q419,915 210,846 L210,1101 Q320,1137 449,1237 Q578,1337 626,1466 L854,1466 Z" transform="translate(-42.297,0.000) scale(0.007520,-0.007520)" fill="#000" stroke="#000" stroke-width="53.19"/></g>
<g transform="translate(539.1,323.6) scale(1,1.04)"><path d="M854,0 L573,0 L573,1059 Q419,915 210,846 L210,1101 Q320,1137 449,1237 Q578,1337 626,1466 L854,1466 Z" transform="translate(-24.362,0.000) scale(0.007520,-0.007520)" fill="#000" stroke="#000" stroke-width="53.19"/></g>
<g transform="translate(539.1,429.3) scale(1,1.04)"><path d="M854,0 L573,0 L573,1059 Q419,915 210,846 L210,1101 Q320,1137 449,1237 Q578,1337 626,1466 L854,1466 Z" transform="translate(-24.362,0.000) scale(0.007520,-0.007520)" fill="#000" stroke="#000" stroke-width="53.19"/></g>
</svg>
</body></html>
